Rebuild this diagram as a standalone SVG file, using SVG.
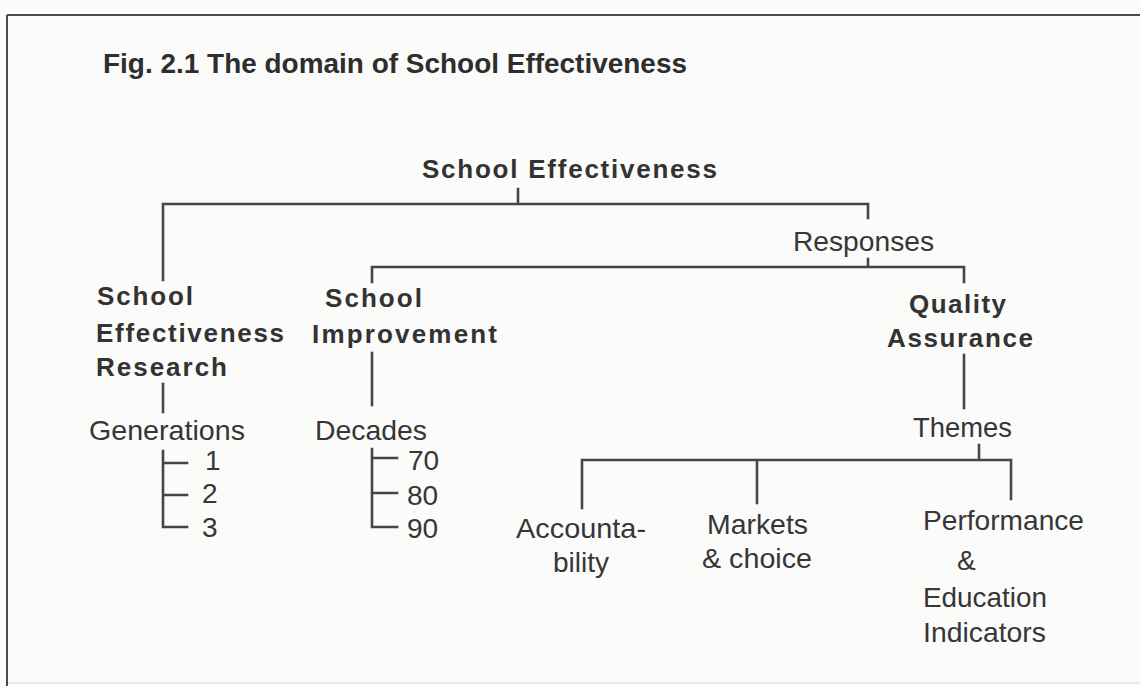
<svg xmlns="http://www.w3.org/2000/svg" width="1140" height="686" viewBox="0 0 1140 686">
  <style>
    .bg { fill: #fbfbfa; }
    .frame { fill: none; stroke: #4a4a4a; stroke-width: 2; }
    .frame-faint { fill: none; stroke: #e2e2e2; stroke-width: 1.5; }
    .link { fill: none; stroke: #454545; stroke-width: 2.6; stroke-linecap: square; }
    .title { font-family: "Liberation Sans", Arial, sans-serif; font-weight: bold; font-size: 27px; fill: #2e2e2e; }
    .head { font-family: "Liberation Sans", Arial, sans-serif; font-weight: bold; font-size: 26px; fill: #333333; }
    .label { font-family: "Liberation Sans", Arial, sans-serif; font-size: 28px; fill: #363636; }
  </style>

  <rect class="bg" x="0" y="0" width="1140" height="686"/>

  <!-- outer frame: top and left edges -->
  <path class="frame" d="M7,15 H1140 M7,15 V686"/>
  <path class="frame-faint" d="M8,683 H1140"/>

  <text class="title" x="103" y="73" textLength="584" lengthAdjust="spacingAndGlyphs">Fig. 2.1  The domain of School Effectiveness</text>

  <!-- connectors -->
  <g id="connectors">
    <!-- root to first level -->
    <path class="link" d="M518,189 V204 M163,204 H868 M163,204 V280 M868,204 V218"/>
    <!-- Responses to its two branches -->
    <path class="link" d="M868,259 V267 M372,267 H964 M372,267 V282 M964,267 V282"/>
    <!-- School Effectiveness Research to Generations -->
    <path class="link" d="M163,384 V412"/>
    <!-- School Improvement to Decades -->
    <path class="link" d="M372,353 V405"/>
    <!-- Quality Assurance to Themes -->
    <path class="link" d="M964,355 V408"/>
    <!-- Generations bracket -->
    <path class="link" d="M163,451 V527 H187 M163,463 H187 M163,495 H187"/>
    <!-- Decades bracket -->
    <path class="link" d="M372,449 V527 H397 M372,458 H397 M372,493 H397"/>
    <!-- Themes to its three branches -->
    <path class="link" d="M979,445 V460 M582,460 H1011 M582,460 V508 M757,460 V503 M1011,460 V499"/>
  </g>

  <g id="school-effectiveness">
    <text class="head" x="422" y="178" textLength="295" lengthAdjust="spacing">School Effectiveness</text>
  </g>

  <g id="responses">
    <text class="label" x="793" y="251" textLength="141" lengthAdjust="spacingAndGlyphs">Responses</text>
  </g>

  <g id="school-effectiveness-research">
    <text class="head" x="97" y="305" textLength="96" lengthAdjust="spacing">School</text>
    <text class="head" x="96" y="342" textLength="188" lengthAdjust="spacing">Effectiveness</text>
    <text class="head" x="96" y="376" textLength="131" lengthAdjust="spacing">Research</text>
  </g>

  <g id="school-improvement">
    <text class="head" x="325" y="307" textLength="97" lengthAdjust="spacing">School</text>
    <text class="head" x="312" y="343" textLength="185" lengthAdjust="spacing">Improvement</text>
  </g>

  <g id="quality-assurance">
    <text class="head" x="909" y="313" textLength="97" lengthAdjust="spacing">Quality</text>
    <text class="head" x="887" y="347" textLength="146" lengthAdjust="spacing">Assurance</text>
  </g>

  <g id="generations">
    <text class="label" x="89" y="440" textLength="156" lengthAdjust="spacingAndGlyphs">Generations</text>
    <text class="label" x="205" y="470">1</text>
    <text class="label" x="202" y="503">2</text>
    <text class="label" x="202" y="537">3</text>
  </g>

  <g id="decades">
    <text class="label" x="315" y="440" textLength="112" lengthAdjust="spacingAndGlyphs">Decades</text>
    <text class="label" x="408" y="470">70</text>
    <text class="label" x="407" y="505">80</text>
    <text class="label" x="407" y="538">90</text>
  </g>

  <g id="themes">
    <text class="label" x="913" y="437" textLength="99" lengthAdjust="spacingAndGlyphs">Themes</text>
  </g>

  <g id="accountability">
    <text class="label" x="516" y="538" textLength="130" lengthAdjust="spacingAndGlyphs">Accounta-</text>
    <text class="label" x="553" y="572">bility</text>
  </g>

  <g id="markets-choice">
    <text class="label" x="707" y="534" textLength="101" lengthAdjust="spacingAndGlyphs">Markets</text>
    <text class="label" x="702" y="568" textLength="110" lengthAdjust="spacingAndGlyphs">&amp; choice</text>
  </g>

  <g id="performance-indicators">
    <text class="label" x="923" y="530" textLength="161" lengthAdjust="spacingAndGlyphs">Performance</text>
    <text class="label" x="957" y="570">&amp;</text>
    <text class="label" x="923" y="607" textLength="124" lengthAdjust="spacingAndGlyphs">Education</text>
    <text class="label" x="923" y="642" textLength="123" lengthAdjust="spacingAndGlyphs">Indicators</text>
  </g>
</svg>
